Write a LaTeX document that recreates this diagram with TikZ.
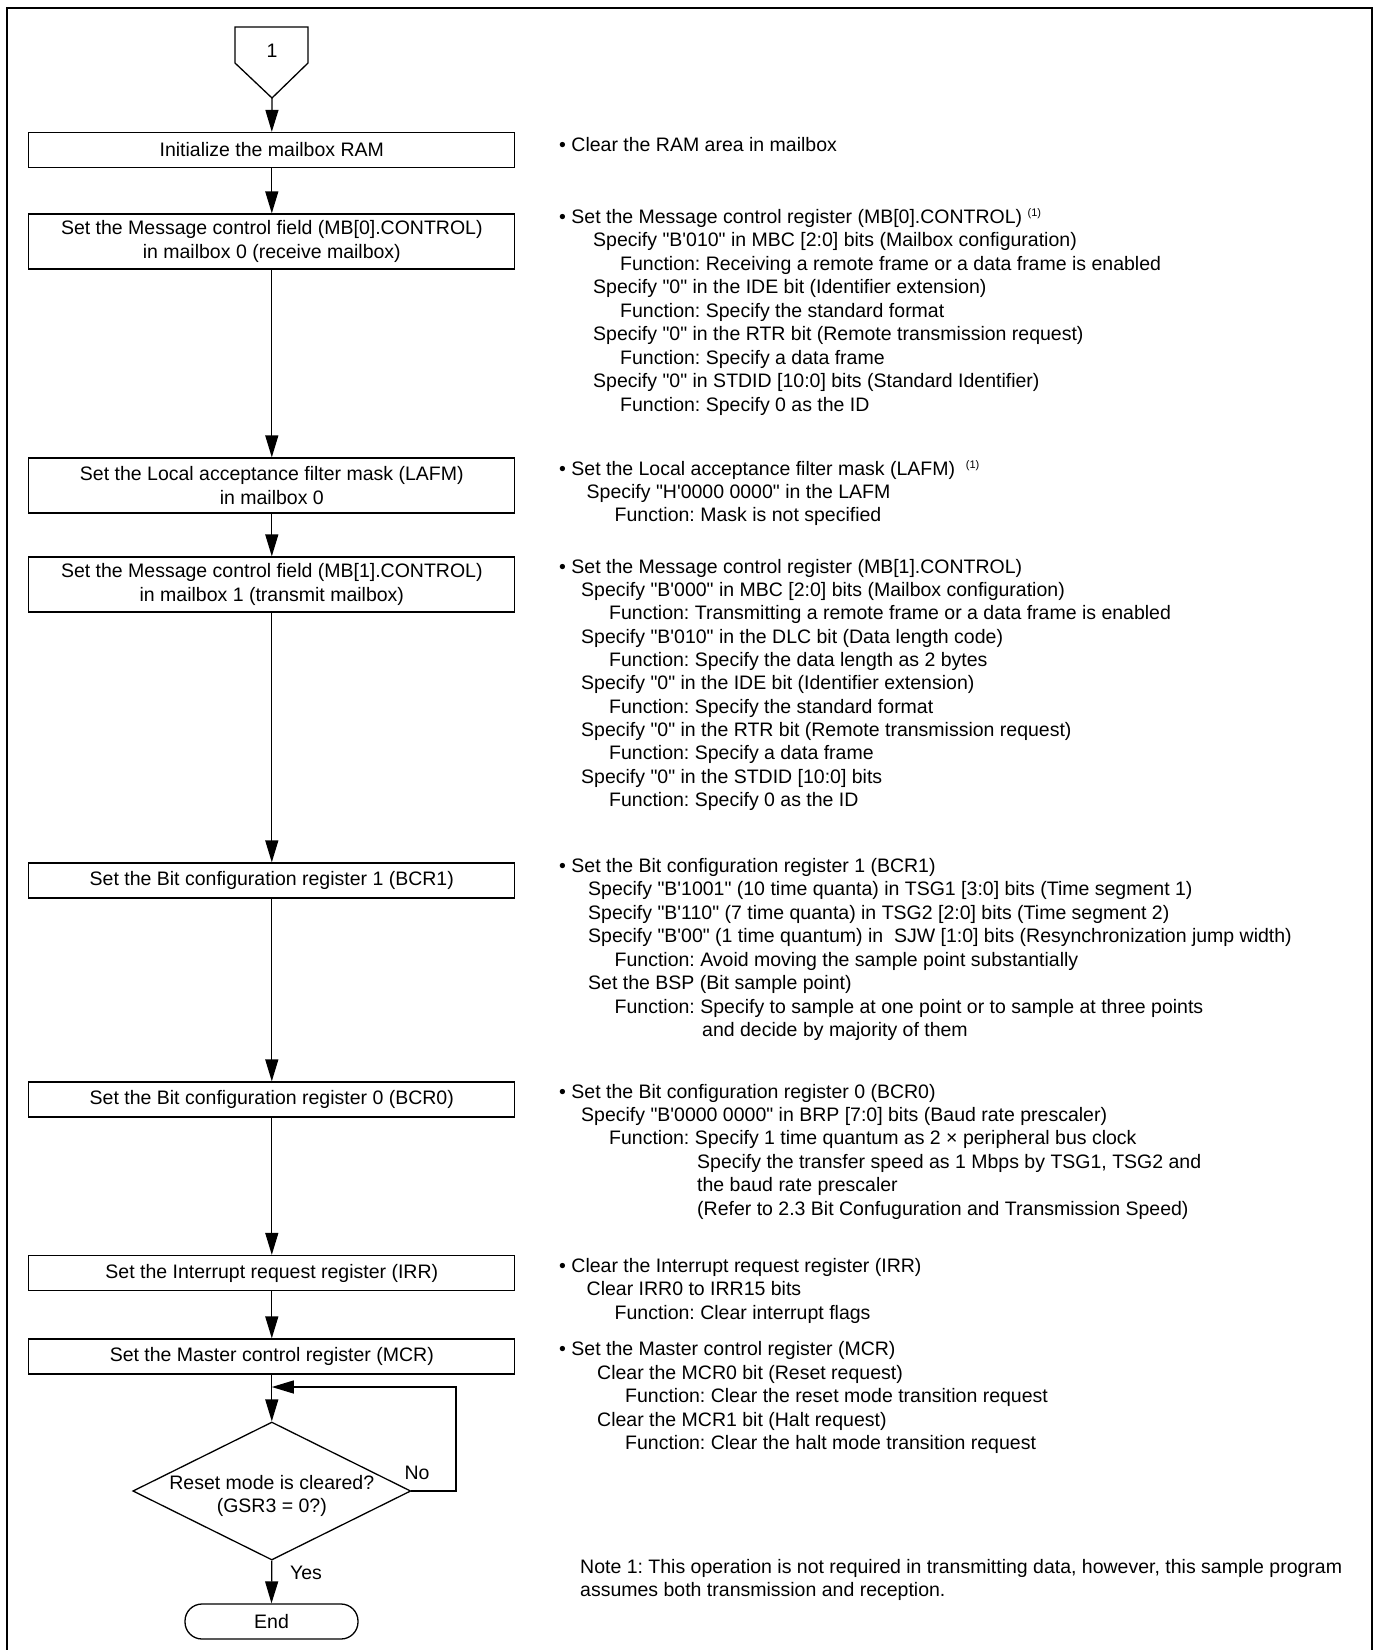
\documentclass[tikz,border=0pt]{standalone}
\usepackage{fontspec}
\newfontfamily\af{Liberation Sans}
\usetikzlibrary{arrows.meta,shapes.geometric}
\newcommand{\tline}[4]{\node[txt] (#1) at (#2,#3) {#4};}
\newcommand{\noteref}{\raisebox{7pt}{\fontsize{11}{11}\selectfont(1)}}
\frenchspacing
\begin{document}
\begin{tikzpicture}[x=1pt,y=-1pt,
  font=\af\frenchspacing\fontsize{19.5}{23.4}\selectfont,
  ln/.style={line width=1.3pt},
  proc/.style={draw, ln, minimum width=486pt, minimum height=35pt, inner sep=0pt, align=center},
  proc2/.style={proc, minimum height=55pt},
  arr/.style={ln, -{Triangle[length=22pt,width=13pt]}},
  txt/.style={anchor=base west, inner sep=0pt},
  lbl/.style={inner sep=0pt, align=center}]
\useasboundingbox (0,0) rectangle (1374,1650);
% frame
\draw[line width=2pt] (6.5,1652) -- (6.5,8) -- (1371.5,8) -- (1371.5,1652);
% off-page connector
\draw[ln] (235,27) -- (308,27) -- (308,63) -- (272,98) -- (235,63) -- cycle;
\node[lbl] (one) at (272,51) {1};
\coordinate (ctip) at (272,98);
% process boxes
\node[proc]  (b1) at (271.8,150)   {Initialize the mailbox RAM};
\node[proc2] (b2) at (271.8,241.5) {Set the Message control field (MB[0].CONTROL)\\in mailbox 0 (receive mailbox)};
\node[proc2] (b3) at (271.8,485.5) {Set the Local acceptance filter mask (LAFM)\\in mailbox 0};
\node[proc2] (b4) at (271.8,584.5) {Set the Message control field (MB[1].CONTROL)\\in mailbox 1 (transmit mailbox)};
\node[proc]  (b5) at (271.8,880.5) {Set the Bit configuration register 1 (BCR1)};
\node[proc]  (b6) at (271.8,1099.5) {Set the Bit configuration register 0 (BCR0)};
\node[proc]  (b7) at (271.8,1273)  {Set the Interrupt request register (IRR)};
\node[proc]  (b8) at (271.8,1356.5) {Set the Master control register (MCR)};
% decision
\node[draw, ln, diamond, minimum width=278pt, minimum height=138pt, inner sep=0pt] (dec) at (271.8,1491) {};
\node[lbl] (dect) at (271.8,1496) {Reset mode is cleared?\\(GSR3 = 0?)};
% terminal
\node[draw, ln, rounded corners=17pt, minimum width=173pt, minimum height=35pt, inner sep=0pt] (end) at (271.5,1621.5) {End};
% labels
\node[lbl] (no) at (417,1473) {No};
\node[lbl] (yes) at (306,1573) {Yes};
% connectors
\draw[arr] (ctip) -- (b1.north);
\draw[arr] (b1.south) -- (b2.north);
\draw[arr] (b2.south) -- (b3.north);
\draw[arr] (b3.south) -- (b4.north);
\draw[arr] (b4.south) -- (b5.north);
\draw[arr] (b5.south) -- (b6.north);
\draw[arr] (b6.south) -- (b7.north);
\draw[arr] (b7.south) -- (b8.north);
\draw[arr] (b8.south) -- (dec.north);
\coordinate (lpa) at (456,1491);
\coordinate (lpb) at (456,1387);
\coordinate (lpin) at (271.8,1387);
\draw[arr] (dec.east) -- (lpa) -- (lpb) -- (lpin);
\draw[arr] (dec.south) -- (end.north);
% right-hand notes
\tline{a1}{559}{151}{• Clear the RAM area in mailbox}
\tline{bA}{559}{223}{• Set the Message control register (MB[0].CONTROL) \noteref}
\tline{bB}{593}{246.5}{Specify "B'010" in MBC [2:0] bits (Mailbox configuration)}
\tline{bC}{620}{270}{Function: Receiving a remote frame or a data frame is enabled}
\tline{bD}{593}{293.5}{Specify "0" in the IDE bit (Identifier extension)}
\tline{bE}{620}{317}{Function: Specify the standard format}
\tline{bF}{593}{340.5}{Specify "0" in the RTR bit (Remote transmission request)}
\tline{bG}{620}{364}{Function: Specify a data frame}
\tline{bH}{593}{387.5}{Specify "0" in STDID [10:0] bits (Standard Identifier)}
\tline{bI}{620}{411}{Function: Specify 0 as the ID}
\tline{cA}{559}{475}{• Set the Local acceptance filter mask (LAFM)\ \ \noteref}
\tline{cB}{586.5}{498}{Specify "H'0000 0000" in the LAFM}
\tline{cC}{614.5}{521}{Function: Mask is not specified}
\tline{dA}{559}{573}{• Set the Message control register (MB[1].CONTROL)}
\tline{dB}{581}{596.3}{Specify "B'000" in MBC [2:0] bits (Mailbox configuration)}
\tline{dC}{609}{619.7}{Function: Transmitting a remote frame or a data frame is enabled}
\tline{dD}{581}{643}{Specify "B'010" in the DLC bit (Data length code)}
\tline{dE}{609}{666.3}{Function: Specify the data length as 2 bytes}
\tline{dF}{581}{689.7}{Specify "0" in the IDE bit (Identifier extension)}
\tline{dG}{609}{713}{Function: Specify the standard format}
\tline{dH}{581}{736.3}{Specify "0" in the RTR bit (Remote transmission request)}
\tline{dI}{609}{759.7}{Function: Specify a data frame}
\tline{dJ}{581}{783}{Specify "0" in the STDID [10:0] bits}
\tline{dK}{609}{806.3}{Function: Specify 0 as the ID}
\tline{eA}{559}{872}{• Set the Bit configuration register 1 (BCR1)}
\tline{eB}{588}{895.5}{Specify "B'1001" (10 time quanta) in TSG1 [3:0] bits (Time segment 1)}
\tline{eC}{588}{919}{Specify "B'110" (7 time quanta) in TSG2 [2:0] bits (Time segment 2)}
\tline{eD}{588}{942.5}{Specify "B'00" (1 time quantum) in \ SJW [1:0] bits (Resynchronization jump width)}
\tline{eE}{614.5}{966}{Function: Avoid moving the sample point substantially}
\tline{eF}{588}{989.5}{Set the BSP (Bit sample point)}
\tline{eG}{614.5}{1013}{Function: Specify to sample at one point or to sample at three points}
\tline{eH}{702}{1036.5}{and decide by majority of them}
\tline{fA}{559}{1098}{• Set the Bit configuration register 0 (BCR0)}
\tline{fB}{581}{1121.4}{Specify "B'0000 0000" in BRP [7:0] bits (Baud rate prescaler)}
\tline{fC}{609}{1144.8}{Function: Specify 1 time quantum as 2 × peripheral bus clock}
\tline{fD}{697}{1168.2}{Specify the transfer speed as 1 Mbps by TSG1, TSG2 and}
\tline{fE}{697}{1191.6}{the baud rate prescaler}
\tline{fF}{697}{1215}{(Refer to 2.3 Bit Confuguration and Transmission Speed)}
\tline{gA}{559}{1272}{• Clear the Interrupt request register (IRR)}
\tline{gB}{586.5}{1295}{Clear IRR0 to IRR15 bits}
\tline{gC}{614.5}{1319}{Function: Clear interrupt flags}
\tline{hA}{559}{1355}{• Set the Master control register (MCR)}
\tline{hB}{597}{1379}{Clear the MCR0 bit (Reset request)}
\tline{hC}{625}{1402}{Function: Clear the reset mode transition request}
\tline{hD}{597}{1426}{Clear the MCR1 bit (Halt request)}
\tline{hE}{625}{1449}{Function: Clear the halt mode transition request}
\tline{nA}{580}{1573}{Note 1: This operation is not required in transmitting data, however, this sample program}
\tline{nB}{580}{1596}{assumes both transmission and reception.}
\end{tikzpicture}
\end{document}
